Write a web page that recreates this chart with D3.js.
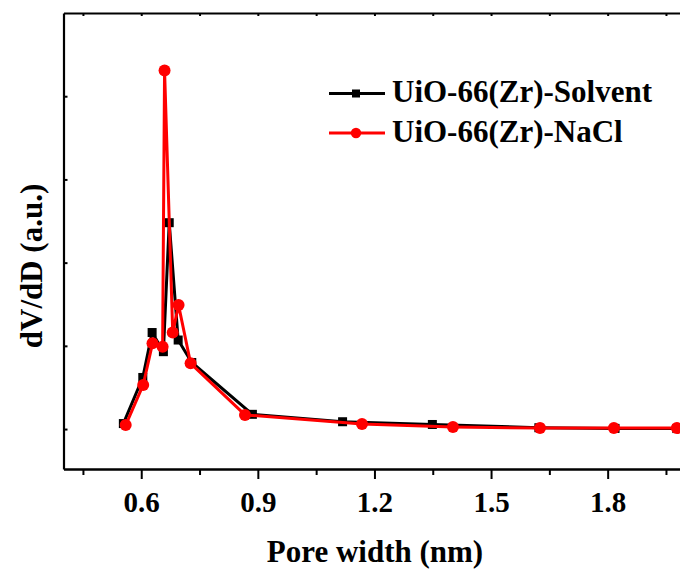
<!DOCTYPE html>
<html>
<head>
<meta charset="utf-8">
<script src="https://cdn.jsdelivr.net/npm/d3@7"></script>
<style>
  html, body { margin: 0; padding: 0; background: #fff; }
  svg { display: block; }
  text { font-family: "Liberation Serif", "Times New Roman", serif; font-weight: bold; fill: #000; }
</style>
</head>
<body>
<svg id="chart" width="680" height="572"></svg>
<script>
// Pore size distribution (dV/dD) of the two UiO-66(Zr) samples
const solventWidth = [0.554, 0.604, 0.628, 0.657, 0.672, 0.695, 0.730, 0.886, 1.118, 1.349, 1.623, 1.819, 1.978];
const solventValue = [0.066, 0.62, 1.16, 0.93, 2.48, 1.07, 0.80, 0.177, 0.088, 0.055, 0.016, 0.008, 0.006];

const naclWidth = [0.560, 0.605, 0.629, 0.655, 0.660, 0.681, 0.696, 0.727, 0.867, 1.168, 1.402, 1.626, 1.816, 1.978];
const naclValue = [0.048, 0.53, 1.03, 0.99, 4.31, 1.16, 1.49, 0.79, 0.17, 0.06, 0.024, 0.012, 0.012, 0.012];

const seriesNames = ["UiO-66(Zr)-Solvent", "UiO-66(Zr)-NaCl"];
const seriesColors = ["#000000", "#ff0000"];

const xMajorTicks = [0.6, 0.9, 1.2, 1.5, 1.8];
const xMinorTicks = [0.45, 0.75, 1.05, 1.35, 1.65, 1.95];
const yTicks = [0, 1, 2, 3, 4];

const xTitle = "Pore width (nm)";
const yTitle = "dV/dD (a.u.)";

const svg = d3.select("#chart");

const plotLeft = 63.5, plotRight = 685.4, plotTop = 13, plotBottom = 469;

const x = d3.scaleLinear().domain([0.4, 2.0]).range([plotLeft, plotRight]);
const y = d3.scaleLinear().domain([-0.48, 5.0]).range([plotBottom, plotTop]);

// bottom axis with minor and major ticks
const gMinor = svg.append("g").attr("transform", `translate(0,${plotBottom})`)
  .call(d3.axisBottom(x).tickValues(xMinorTicks).tickSize(6).tickSizeOuter(0).tickFormat(""));
const gMajor = svg.append("g").attr("transform", `translate(0,${plotBottom})`)
  .call(d3.axisBottom(x).tickValues(xMajorTicks).tickSize(10).tickSizeOuter(0).tickFormat(d3.format(".1f")));
gMajor.selectAll("text").attr("y", 43).attr("dy", null).style("font-size", "29px");

// top axis (mirrored, small inward ticks)
svg.append("g").attr("transform", `translate(0,${plotTop})`)
  .call(d3.axisTop(x).tickValues(xMajorTicks.concat(xMinorTicks)).tickSize(-3).tickSizeOuter(0).tickFormat(""));

// left axis: small inward ticks, no labels
svg.append("g").attr("transform", `translate(${plotLeft},0)`)
  .call(d3.axisLeft(y).tickValues(yTicks).tickSize(-4).tickSizeOuter(0).tickFormat(""));

// right axis
svg.append("g").attr("transform", `translate(${plotRight},0)`)
  .call(d3.axisRight(y).tickValues(yTicks).tickSize(-4).tickSizeOuter(0).tickFormat(""));

svg.selectAll(".domain").attr("stroke", "#000").attr("stroke-width", 2.2);
svg.selectAll(".tick line").attr("stroke", "#000").attr("stroke-width", 2);

// axis titles
svg.append("text")
  .attr("x", 375).attr("y", 562)
  .attr("text-anchor", "middle")
  .style("font-size", "31px")
  .text(xTitle);

svg.append("text")
  .attr("transform", "translate(42,266) rotate(-90)")
  .attr("text-anchor", "middle")
  .style("font-size", "31px")
  .text(yTitle);

// data series
const line = d3.line().x(d => x(d[0])).y(d => y(d[1]));
const solvent = solventWidth.map((w, i) => [w, solventValue[i]]);
const nacl = naclWidth.map((w, i) => [w, naclValue[i]]);

const plot = svg.append("g");

plot.append("path").datum(solvent)
  .attr("d", line).attr("fill", "none")
  .attr("stroke", seriesColors[0]).attr("stroke-width", 3).attr("stroke-linejoin", "round");
plot.selectAll("rect.sq").data(solvent).enter().append("rect")
  .attr("class", "sq")
  .attr("x", d => x(d[0]) - 4.5).attr("y", d => y(d[1]) - 4.5)
  .attr("width", 9).attr("height", 9)
  .attr("fill", seriesColors[0]);

plot.append("path").datum(nacl)
  .attr("d", line).attr("fill", "none")
  .attr("stroke", seriesColors[1]).attr("stroke-width", 3).attr("stroke-linejoin", "round");
plot.selectAll("circle.dot").data(nacl).enter().append("circle")
  .attr("class", "dot")
  .attr("cx", d => x(d[0])).attr("cy", d => y(d[1]))
  .attr("r", 6)
  .attr("fill", seriesColors[1]);

// legend
const legend = svg.append("g");
const legendRows = [102, 141.5];
seriesNames.forEach((name, i) => {
  const g = legend.append("g").attr("transform", `translate(0,${legendRows[i]})`);
  g.append("line").attr("x1", 329).attr("x2", 385).attr("y1", -8.5).attr("y2", -8.5)
    .attr("stroke", seriesColors[i]).attr("stroke-width", 3);
  if (i === 0) {
    g.append("rect").attr("x", 352).attr("y", -12.5).attr("width", 8).attr("height", 8).attr("fill", seriesColors[i]);
  } else {
    g.append("circle").attr("cx", 356).attr("cy", -8.5).attr("r", 5.2).attr("fill", seriesColors[i]);
  }
  g.append("text").attr("x", 392).attr("y", 0).style("font-size", "31px").text(name);
});
</script>
</body>
</html>
